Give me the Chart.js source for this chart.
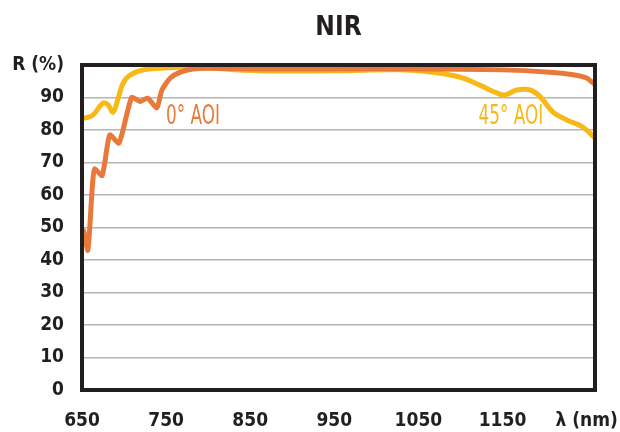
<!DOCTYPE html>
<html>
<head>
<meta charset="utf-8">
<script src="https://cdn.jsdelivr.net/npm/chart.js@4.4.1/dist/chart.umd.min.js"></script>
<style>
  html, body { margin: 0; padding: 0; background: #fff; }
  #wrap { width: 620px; height: 432px; }
</style>
</head>
<body>
<div id="wrap"><canvas id="nir"></canvas></div>
<script>
// 0° AOI (orange)
const nm0 = [650, 652, 657, 662, 665, 674, 683, 694, 709, 719, 728, 739, 745, 755, 767, 782, 800, 850, 950, 1050, 1150, 1206, 1234, 1250, 1260];
const r0 = [48, 49, 43, 61.5, 68, 66, 78.5, 76, 90, 88.8, 89.8, 86.8, 92.3, 96, 97.8, 98.8, 99, 98.8, 98.8, 98.8, 98.5, 97.8, 97, 96, 94];
// 45° AOI (yellow)
const nm45 = [650, 654, 663, 675, 681, 687, 693, 699, 707, 723, 743, 782, 850, 950, 1028, 1067, 1099, 1123, 1143, 1153, 1167, 1183, 1195, 1210, 1227, 1245, 1260];
const r45 = [83.5, 83.7, 84.6, 88.3, 87.7, 85.5, 89.8, 94.5, 96.9, 98.5, 99, 99.4, 98.3, 98.2, 98.5, 97.8, 96.3, 93.8, 91.4, 90.8, 92.3, 92.3, 90.2, 85.5, 83, 81, 77.5];

const seriesNames = ["0° AOI", "45° AOI"];
const labelSpots = [[782, 84], [1160, 84]]; // nm, R
const xTickValues = [650, 750, 850, 950, 1050, 1150, 1250];

const ORANGE = "#e8793a";
const YELLOW = "#f8b918";
const INK = "#231f20";
const FONT = "'Liberation Sans Narrow', 'DejaVu Sans Condensed', sans-serif";

const toPoints = (xs, ys) => xs.map((x, i) => ({ x: x, y: ys[i] }));

const extras = {
  id: "extras",
  afterDraw(chart) {
    const { ctx, chartArea: a, scales } = chart;
    ctx.save();
    // frame
    ctx.strokeStyle = INK;
    ctx.lineWidth = 4;
    ctx.strokeRect(a.left, a.top, a.right - a.left, a.bottom - a.top);
    // title
    ctx.fillStyle = INK;
    ctx.font = "bold 26px " + FONT;
    ctx.textAlign = "center";
    ctx.textBaseline = "middle";
    ctx.fillText("NIR", (a.left + a.right) / 2, 28);
    // series labels
    ctx.font = "26px " + FONT;
    [ORANGE, YELLOW].forEach((c, i) => {
      const x = scales.x.getPixelForValue(labelSpots[i][0]);
      const y = scales.y.getPixelForValue(labelSpots[i][1]);
      ctx.save();
      ctx.translate(x, y);
      ctx.scale(0.72, 1);
      ctx.fillStyle = c;
      ctx.fillText(seriesNames[i], 0, 0);
      ctx.restore();
    });
    ctx.restore();
  }
};

new Chart(document.getElementById("nir").getContext("2d"), {
  type: "line",
  data: {
    datasets: [
      {
        label: seriesNames[0],
        data: toPoints(nm0, r0),
        borderColor: ORANGE,
        borderWidth: 5,
        pointRadius: 0,
        tension: 0.2,
        borderJoinStyle: "round",
        borderCapStyle: "round",
      },
      {
        label: seriesNames[1],
        data: toPoints(nm45, r45),
        borderColor: YELLOW,
        borderWidth: 5,
        pointRadius: 0,
        tension: 0.4,
        borderJoinStyle: "round",
        borderCapStyle: "round",
      },
    ],
  },
  options: {
    responsive: true,
    maintainAspectRatio: false,
    animation: false,
    layout: { padding: { top: 65, right: 25, left: 0, bottom: 0 } },
    plugins: { legend: { display: false }, tooltip: { enabled: false } },
    scales: {
      x: {
        type: "linear",
        min: 650,
        max: 1260,
        afterBuildTicks: (scale) => {
          scale.ticks = xTickValues.map((v) => ({ value: v }));
        },
        afterFit: (scale) => {
          scale.height = 42;
          scale.paddingLeft = 0;
          scale.paddingRight = 0;
        },
        grid: { display: false },
        border: { display: false },
        ticks: {
          padding: 12,
          color: INK,
          font: { family: FONT, size: 19, weight: "bold" },
          callback: (v) => (v === 1250 ? "λ (nm)" : v),
        },
      },
      y: {
        min: 0,
        max: 100,
        afterFit: (scale) => {
          scale.width = 82;
          scale.paddingTop = 0;
          scale.paddingBottom = 0;
        },
        grid: { color: "#b5b5b5", lineWidth: 1.5, drawTicks: false },
        border: { display: false },
        ticks: {
          stepSize: 10,
          padding: 18,
          color: INK,
          font: { family: FONT, size: 19, weight: "bold" },
          callback: (v) => (v === 100 ? "R (%)" : v),
        },
      },
    },
  },
  plugins: [extras],
});
</script>
</body>
</html>
